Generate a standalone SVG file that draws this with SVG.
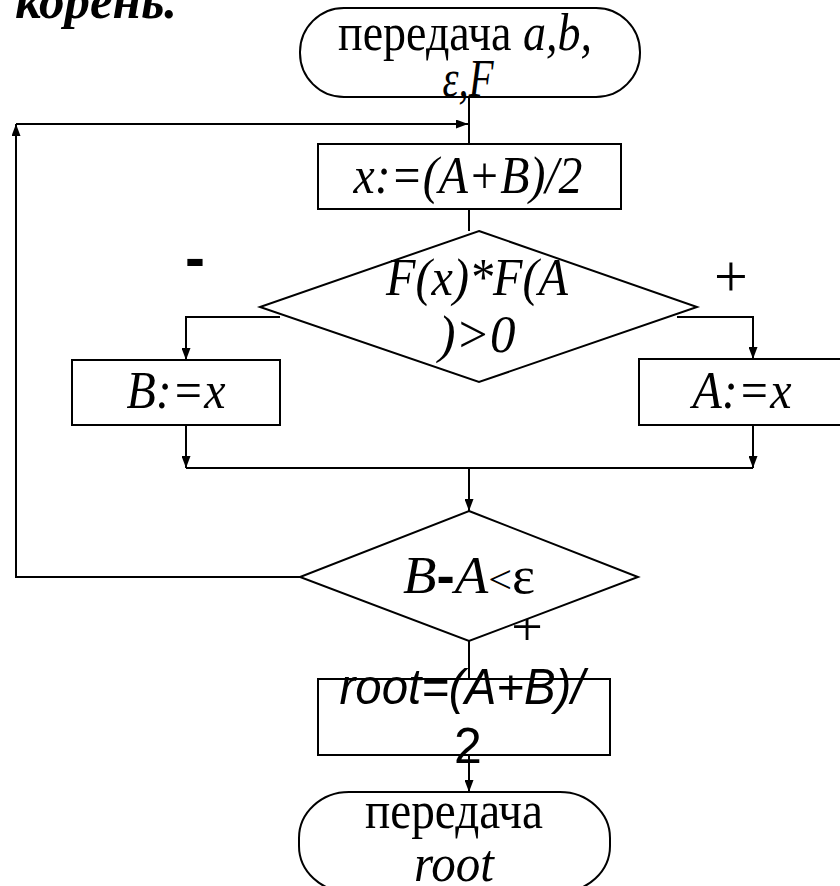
<svg xmlns="http://www.w3.org/2000/svg" width="840" height="886" viewBox="0 0 840 886">
<defs>
<marker id="ah" markerWidth="12" markerHeight="9" refX="12" refY="4.5" orient="auto" markerUnits="userSpaceOnUse">
<path d="M0,0 L12,4.5 L0,9 Z" fill="#000"/>
</marker>
<style>
.shape{fill:#fff;stroke:#000;stroke-width:2}
.conn{fill:none;stroke:#000;stroke-width:2}
.t{font-family:"Liberation Serif","Times New Roman",serif;font-size:52px;fill:#000}
.i{font-style:italic}
.s{font-family:"Liberation Sans",Arial,sans-serif;font-style:italic;font-size:50px;fill:#000}
</style>
</defs>
<rect width="840" height="886" fill="#fff"/>
<text id="title" x="15" y="18" class="t" textLength="162" lengthAdjust="spacingAndGlyphs" style="font-size:52px;font-weight:bold;font-style:italic">корень.</text>

<g id="connectors">
<path class="conn" d="M469,97 V144"/>
<path class="conn" d="M300,577 H16 V124" marker-end="url(#ah)"/>
<path class="conn" d="M16,124 H468" marker-end="url(#ah)"/>
<path class="conn" d="M469,209 V231"/>
<path class="conn" d="M280,317 H186 V360" marker-end="url(#ah)"/>
<path class="conn" d="M677,317 H753 V359" marker-end="url(#ah)"/>
<path class="conn" d="M186,425 V468" marker-end="url(#ah)"/>
<path class="conn" d="M753,425 V468" marker-end="url(#ah)"/>
<path class="conn" d="M186,468 H753"/>
<path class="conn" d="M469,468 V511" marker-end="url(#ah)"/>
<path class="conn" d="M469,641 V679"/>
<path class="conn" d="M469,755 V792" marker-end="url(#ah)"/>
</g>

<g id="labels">
<text x="195" y="278" text-anchor="middle" style="font-family:'Liberation Sans',Arial,sans-serif;font-weight:bold;font-size:60px">-</text>
<text x="731" y="296" text-anchor="middle" class="t" style="font-size:60px">+</text>
<text x="527" y="646" text-anchor="middle" class="t" style="font-size:56px">+</text>
</g>

<g id="start">
<rect class="shape" x="300" y="8" width="340" height="89" rx="44" ry="44"/>
<text x="465" y="50" text-anchor="middle" class="t" textLength="254" lengthAdjust="spacingAndGlyphs">передача <tspan class="i">a,b,</tspan></text>
<text x="468" y="96" text-anchor="middle" class="t i" textLength="51" lengthAdjust="spacingAndGlyphs">ε,F</text>
</g>

<g id="calc-x">
<rect class="shape" x="318" y="144" width="303" height="65"/>
<text x="468" y="193" text-anchor="middle" class="t i" textLength="229" lengthAdjust="spacingAndGlyphs">x:=(A+B)/2</text>
</g>

<g id="cond1">
<polygon class="shape" points="479,231 697,307 479,382 260,307"/>
<text x="477" y="295" text-anchor="middle" class="t i" textLength="182" lengthAdjust="spacingAndGlyphs">F(x)*F(A</text>
<text x="477" y="352" text-anchor="middle" class="t i" textLength="77" lengthAdjust="spacingAndGlyphs">)&gt;0</text>
</g>

<g id="set-b">
<rect class="shape" x="72" y="360" width="208" height="65"/>
<text x="176" y="408" text-anchor="middle" class="t i" textLength="99" lengthAdjust="spacingAndGlyphs">B:=x</text>
</g>

<g id="set-a">
<rect class="shape" x="639" y="359" width="206" height="66"/>
<text x="742" y="408" text-anchor="middle" class="t i" textLength="99" lengthAdjust="spacingAndGlyphs">A:=x</text>
</g>

<g id="cond2">
<polygon class="shape" points="469,511 638,577 469,641 300,577"/>
<text x="469" y="593" text-anchor="middle" class="t" textLength="132" lengthAdjust="spacingAndGlyphs"><tspan class="i">B</tspan><tspan style="font-family:'Liberation Sans',Arial,sans-serif;font-weight:bold">-</tspan><tspan class="i">A</tspan><tspan style="font-size:40px">&lt;</tspan>ε</text>
</g>

<g id="root-calc">
<rect class="shape" x="318" y="679" width="292" height="76"/>
<text x="462" y="704" text-anchor="middle" class="s" textLength="245" lengthAdjust="spacingAndGlyphs">root=(A+B)/</text>
<text x="468" y="763" text-anchor="middle" class="s" style="font-style:normal">2</text>
</g>

<g id="end">
<rect class="shape" x="299" y="792" width="311" height="100" rx="50" ry="46"/>
<text x="454" y="828" text-anchor="middle" class="t" textLength="178" lengthAdjust="spacingAndGlyphs">передача</text>
<text x="454" y="881" text-anchor="middle" class="t i" textLength="80" lengthAdjust="spacingAndGlyphs">root</text>
</g>
</svg>
